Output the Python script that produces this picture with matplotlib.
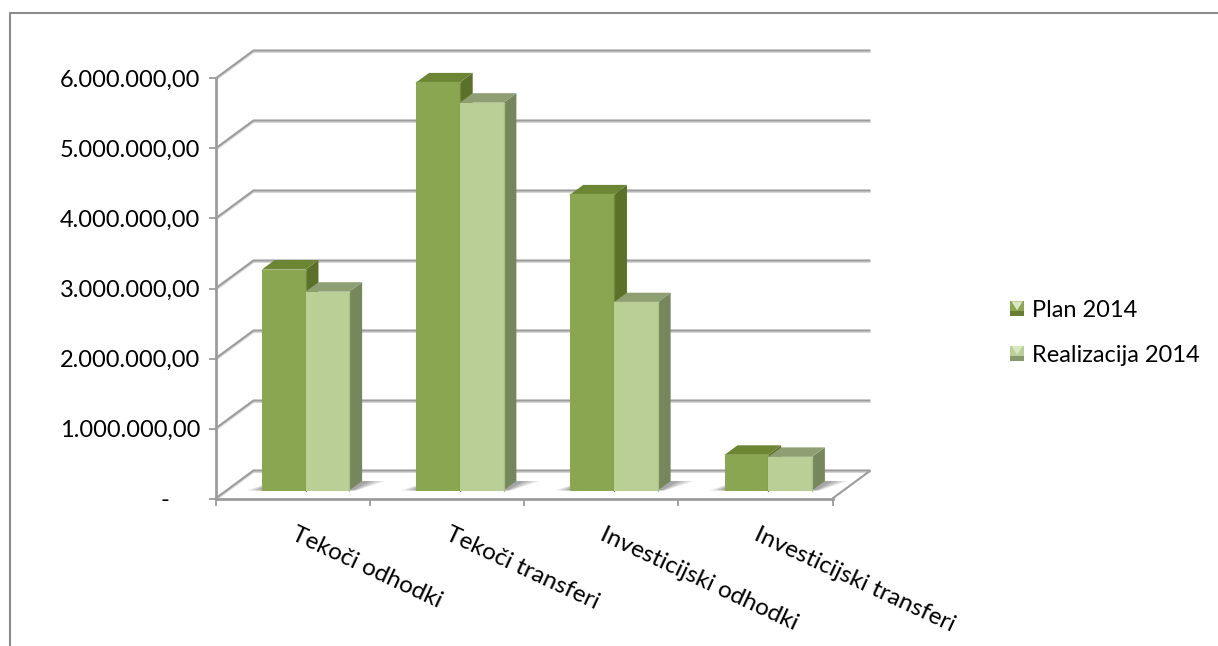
import matplotlib
matplotlib.use("Agg")
import matplotlib.pyplot as plt
from matplotlib.legend_handler import HandlerBase
from matplotlib.lines import Line2D
from matplotlib.patches import Patch, Polygon
import numpy as np

plt.rcParams['font.family'] = ['Lato', 'DejaVu Sans']

categories = ["Tekoči odhodki", "Tekoči transferi", "Investicijski odhodki", "Investicijski transferi"]
plan_2014 = [3157000, 5830000, 4230000, 510000]
realizacija_2014 = [2840000, 5540000, 2690000, 480000]
series_names = ["Plan 2014", "Realizacija 2014"]
value_ticks = [0, 1000000, 2000000, 3000000, 4000000, 5000000, 6000000]
value_labels = ["-     ", "1.000.000,00", "2.000.000,00", "3.000.000,00",
                "4.000.000,00", "5.000.000,00", "6.000.000,00"]

W, H = 1218, 646
fig = plt.figure(figsize=(W / 100, H / 100), dpi=100, facecolor='white')
ax = fig.add_axes([215.5 / W, (H - 498.5) / H, 617 / W, 420 / H])
ax.set_xlim(0, 4)
ax.set_ylim(0, 6000000)
ax.patch.set_visible(False)

# oblique projection: depth 0 = front plane, depth 1 = back wall
DX = 38 / 154.25
DY = 28 / 70 * 1000000


def proj(x, y, d):
    return x + d * DX, y + d * DY


GRID = '#9C9C9C'
SHADOW = '#D4D4D4'
lw = 1.5


def gline(xs, ys, z=1, color=GRID, width=lw):
    ax.plot(xs, ys, color=color, lw=width, clip_on=False, zorder=z, solid_capstyle='butt')


shadow_dy = -1.6 / 70 * 1000000
for v in value_ticks:
    x0, y0 = proj(0, v, 0)
    x1, y1 = proj(0, v, 1)
    x2, y2 = proj(4, v, 1)
    gline([x0, x1, x2], [y0 + shadow_dy, y1 + shadow_dy, y2 + shadow_dy], z=0.5, color=SHADOW, width=1.2)
    gline([x0, x1, x2], [y0, y1, y2])
# floor right edge
xa, ya = proj(4, 0, 0)
xb, yb = proj(4, 0, 1)
gline([xa, xb], [ya, yb])

# bars
BAR_W = 43.7 / 154.25
BAR_START = (262 - 215.5 - 11) / 154.25
D_FRONT = 8 / 28
D_BACK = 17.5 / 28

styles = [
    dict(front='#8AA650', side='#5B7029', top='#6C8634', edge='#6F8A3A'),
    dict(front='#B9CF95', side='#77875D', top='#8F9F74', edge='#A8C080'),
]


def face(points, color, z):
    xs, ys = zip(*points)
    ax.fill(xs, ys, color=color, lw=0, clip_on=False, zorder=z)


def floor_shadow(x0, x1, z):
    for k, alpha in zip([1.0, 0.75, 0.5, 0.25], [0.14, 0.16, 0.18, 0.20]):
        pad = k * 20 / 154.25
        face([proj(x0 - pad * 0.75, 0, D_FRONT), proj(x1 + pad * 0.2, 0, D_FRONT),
              proj(x1 + pad, 0, D_BACK), proj(x0, 0, D_BACK)],
             (0.35, 0.35, 0.35, alpha), z)


for i in range(len(categories)):
    x_start = i + BAR_START
    floor_shadow(x_start, x_start + 2 * BAR_W + 0.02, 1.5)
    for j, vals in enumerate([plan_2014, realizacija_2014]):
        st = styles[j]
        x0 = x_start + j * BAR_W
        x1 = x0 + BAR_W
        v = vals[i]
        z = 2 + i + j * 0.1
        face([proj(x1, 0, D_FRONT), proj(x1, 0, D_BACK), proj(x1, v, D_BACK), proj(x1, v, D_FRONT)], st['side'], z)
        face([proj(x0, v, D_FRONT), proj(x1, v, D_FRONT), proj(x1, v, D_BACK), proj(x0, v, D_BACK)], st['top'], z)
        face([proj(x0, 0, D_FRONT), proj(x1, 0, D_FRONT), proj(x1, v, D_FRONT), proj(x0, v, D_FRONT)], st['front'], z + 0.01)
        ex, ey = proj(x1, 0, D_FRONT)
        ex2, ey2 = proj(x1, v, D_FRONT)
        ax.plot([ex, ex2], [ey, ey2], color=st['edge'], lw=0.9, clip_on=False, zorder=z + 0.02)
        hx0, hy0 = proj(x0, v, D_FRONT)
        hx1, hy1 = proj(x1, v, D_FRONT)
        ax.plot([hx0, hx1], [hy0, hy1], color=st['front'], lw=1.0, clip_on=False, zorder=z + 0.02)

# axes
for s in ['top', 'right']:
    ax.spines[s].set_visible(False)
for s in ['left', 'bottom']:
    ax.spines[s].set_color(GRID)
    ax.spines[s].set_linewidth(2.0)
    ax.spines[s].set_zorder(10)
ax.set_yticks(value_ticks)
ax.set_yticklabels(value_labels)
ax.set_xticks(range(5))
ax.set_xticklabels([])
ax.tick_params(axis='both', which='major', color=GRID, width=1.3, length=5)
ax.tick_params(axis='y', labelsize=17, pad=6, labelcolor='black')
ax.set_xticks(np.arange(len(categories)) + 0.5, minor=True)
ax.set_xticklabels(categories, minor=True, rotation=-25, ha='left', va='center',
                   rotation_mode='anchor', fontsize=17.5)
ax.tick_params(axis='x', which='minor', length=0, pad=25)


# legend: small pillow-shaped key like the bevelled bars
class PillowKey(HandlerBase):
    def create_artists(self, legend, orig_handle, xdescent, ydescent, width, height, fontsize, trans):
        x0, y0 = -xdescent, -ydescent
        x1, y1 = x0 + width, y0 + height
        xm, ym = (x0 + x1) / 2, (y0 + y1) / 2
        base = Polygon([(x0, y0), (x1, y0), (x1, y1), (x0, y1)], closed=True,
                       facecolor=orig_handle.get_facecolor(), edgecolor='none', transform=trans)
        lower = Polygon([(x0, y0), (x1, y0), (x1, y0 + height * 0.35), (x0, y0 + height * 0.35)], closed=True,
                        facecolor=orig_handle.get_edgecolor(), edgecolor='none', alpha=0.75, transform=trans)
        top = Polygon([(x0 + 1, y1), (x1 - 1, y1), (xm, ym - height * 0.1)], closed=True,
                      facecolor='#D9E6C2', edgecolor='none', transform=trans)
        return [base, lower, top]


handles = [Patch(facecolor=st['front'], edgecolor=st['side']) for st in styles]
fig.legend(handles, series_names, loc='center left', bbox_to_anchor=(1010 / W, (H - 333) / H),
           frameon=False, fontsize=17, handlelength=0.6, handleheight=0.6,
           handletextpad=0.34, labelspacing=1.0, borderpad=0, borderaxespad=0,
           handler_map={Patch: PillowKey()})

# chart frame
frame = '#8C8C8C'
fig.add_artist(Line2D([10 / W, 10 / W, 1], [0, (H - 13) / H, (H - 13) / H], color=frame, lw=1.5))

fig.savefig('out.png', dpi=100, facecolor='white')
